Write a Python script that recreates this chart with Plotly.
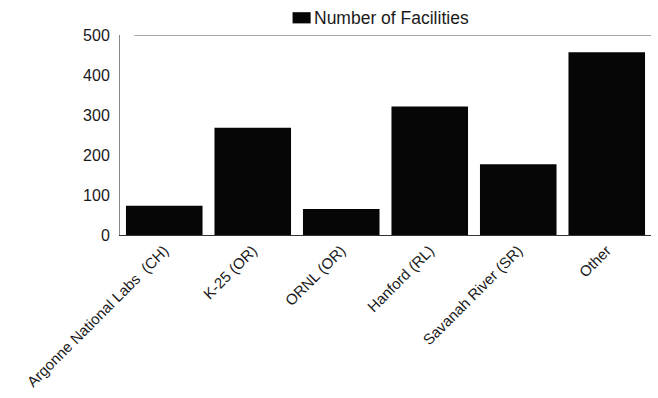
import plotly.graph_objects as go

categories = ["Argonne National Labs  (CH)", "K-25 (OR)", "ORNL (OR)", "Hanford (RL)",
              "Savanah River (SR)", "Other"]
facilities = [73, 268, 65, 321, 177, 457]
y_ticks = [0, 100, 200, 300, 400, 500]
legend_label = "Number of Facilities"

FONT = "Liberation Sans, Arial, Helvetica, sans-serif"

fig = go.Figure()
fig.add_trace(go.Bar(
    x=categories, y=facilities, name=legend_label,
    marker=dict(color="#060606", line=dict(width=0)),
    showlegend=False,
))

fig.update_layout(
    width=658, height=398,
    margin=dict(l=120, r=7, t=35, b=163, pad=0),
    paper_bgcolor="white", plot_bgcolor="white",
    font=dict(family=FONT, size=16, color="#1a1a1a"),
    bargap=0.135,
    showlegend=False,
    xaxis=dict(tickangle=-45, showline=True, linecolor="#333", linewidth=1,
               ticks="", showgrid=False, tickfont=dict(size=15), automargin=False),
    yaxis=dict(range=[0, 500], tickvals=y_ticks, showgrid=False, showline=True,
               linecolor="#888", linewidth=1, ticks="outside", ticklen=6,
               tickcolor="rgba(0,0,0,0)", zeroline=False, tickfont=dict(size=16),
               automargin=False),
)
# top boundary line at the 500 level
fig.add_shape(type="line", xref="paper", yref="y", x0=0.027, x1=1, y0=500, y1=500,
              line=dict(color="#555", width=1))
# legend: square + label
fig.add_shape(type="rect", xref="paper", yref="paper", x0=0.325, x1=0.359,
              y0=1.058, y1=1.114, fillcolor="#060606", line=dict(width=0))
fig.add_annotation(xref="paper", yref="paper", x=0.359, y=1.086, xanchor="left",
                   yanchor="middle", text=legend_label, showarrow=False,
                   font=dict(size=17.5, family=FONT, color="#1a1a1a"), xshift=1)
fig.write_html("out.html")
